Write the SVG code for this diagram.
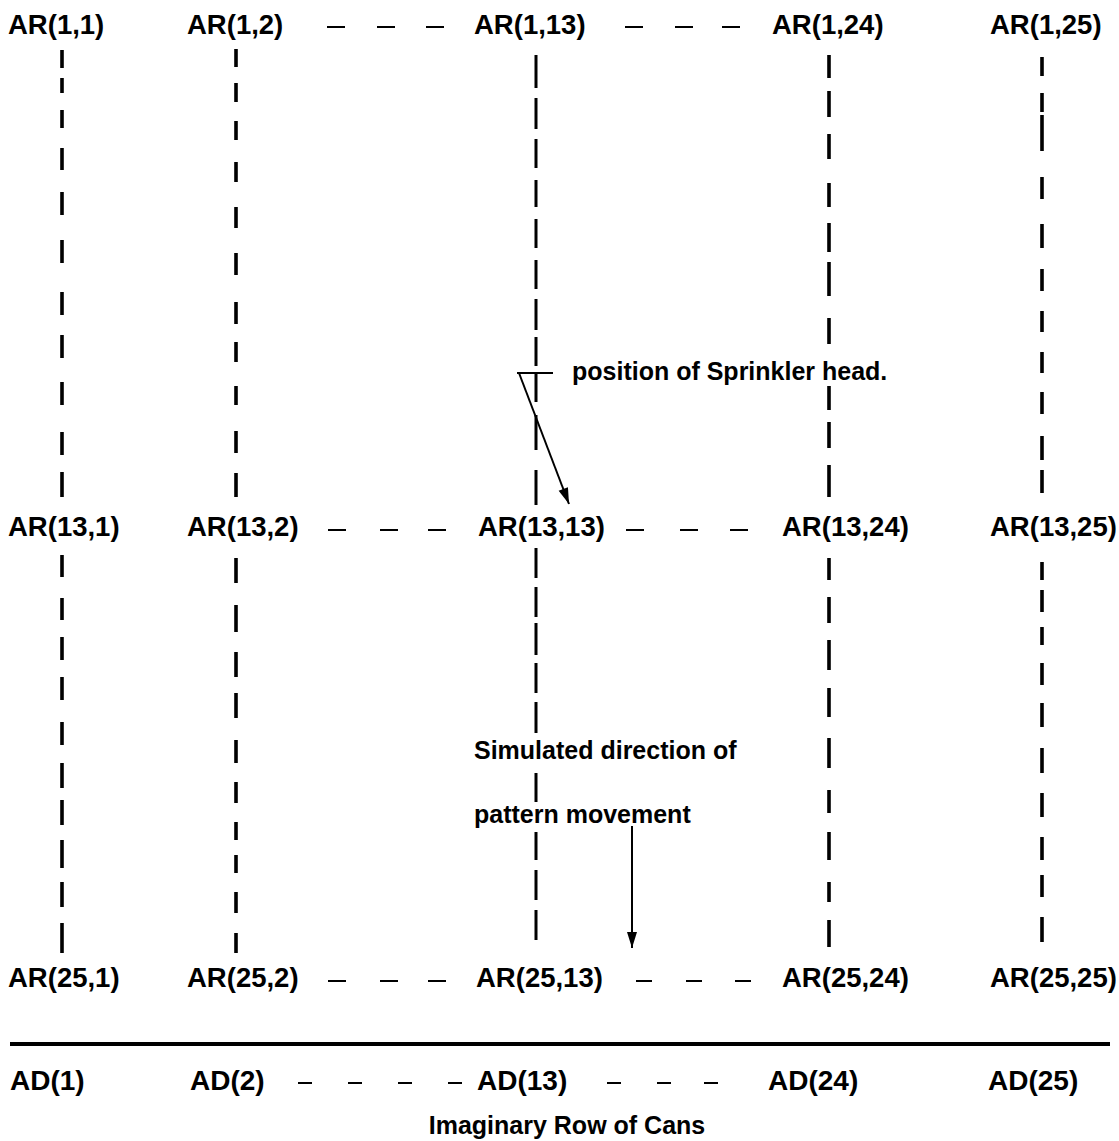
<svg xmlns="http://www.w3.org/2000/svg" width="1119" height="1141" viewBox="0 0 1119 1141">
<style>
.lbl{font-family:"Liberation Sans",Arial,sans-serif;font-weight:bold;font-size:27.5px;fill:#000}
.ad{font-family:"Liberation Sans",Arial,sans-serif;font-weight:bold;font-size:28px;fill:#000}
.note{font-family:"Liberation Sans",Arial,sans-serif;font-weight:bold;font-size:25px;fill:#000}
.col{stroke:#000;stroke-width:3.6;fill:none}
.col13{stroke:#000;stroke-width:3;fill:none}
.hd{stroke:#000;stroke-width:2.2;fill:none}
.arr{stroke:#000;stroke-width:2;fill:none}
</style>
<defs>
<marker id="ah2" viewBox="0 0 16 10" refX="16" refY="5" markerWidth="17" markerHeight="10" markerUnits="userSpaceOnUse" orient="auto">
<path d="M0,0 L16,5 L0,10 z" fill="#000"/>
</marker>
</defs>
<rect width="1119" height="1141" fill="#fff"/>
<g id="connectors">
<path class="col" d="M62 50V68M62 78V93M62 110V128M62 148V170M62 192V215M62 240V263M62 292V315M62 335V358M62 382V405M62 432V455M62 472V497"/>
<path class="col" d="M62 555V577M62 598V620M62 637V660M62 677V700M62 722V745M62 763V788M62 800V825M62 840V868M62 882V907M62 923V953"/>
<path class="col" d="M236 49V67M236 83V102M236 121V140M236 162V182M236 207V228M236 253V275M236 302V324M236 342V362M236 386V405M236 431V453M236 473V497"/>
<path class="col" d="M236 558V583M236 605V632M236 652V677M236 693V718M236 740V763M236 782V803M236 822V840M236 855V873M236 892V913M236 933V953"/>
<path class="col13" d="M536 55V88M536 98V129M536 139V168M536 180V207M536 219V248M536 260V289M536 299V330M536 337V366M536 373V402M536 415V450M536 470V505"/>
<path class="col13" d="M536 548V578M536 587V617M536 623V655M536 663V693M536 702V733M536 773V802M536 832V860M536 870V900M536 910V940"/>
<path class="col" d="M829 55V78M829 91V117M829 134V159M829 183V207M829 223V252M829 262V296M829 318V344M829 386V410M829 422V448M829 465V497"/>
<path class="col" d="M829 558V580M829 597V623M829 640V670M829 688V717M829 738V768M829 790V813M829 832V860M829 882V902M829 920V947"/>
<path class="col" d="M1042 57V76M1042 93V112M1042 115V151M1042 177V199M1042 224V248M1042 269V291M1042 311V332M1042 352V373M1042 392V414M1042 436V460M1042 470V493"/>
<path class="col" d="M1042 562V580M1042 590V612M1042 627V645M1042 663V685M1042 703V727M1042 748V773M1042 793V817M1042 837V860M1042 875V897M1042 917V942"/>
<path class="hd" d="M327 27H345M377 27H395M426 27H444M625 27H643M675 27H693M722 27H740"/>
<path class="hd" d="M328 530H346M380 530H398M428 530H446M626 530H644M680 530H698M730 530H748"/>
<path class="hd" d="M328 981H346M380 981H398M428 981H446M636 981H652M686 981H702M735 981H751"/>
<path class="hd" d="M298 1083H312M348 1083H362M398 1083H412M448 1083H462M607 1083H621M657 1083H671M704 1083H718"/>
<path stroke="#000" stroke-width="3.8" d="M10 1044H1110"/>
<path class="arr" d="M517 373H553"/>
<path class="arr" d="M519 373L569 504" marker-end="url(#ah2)"/>
<path class="arr" d="M632 826V948" marker-end="url(#ah2)"/>
</g>
<g id="row1">
<g id="ar-1-1"><text class="lbl" x="8" y="34">AR(1,1)</text></g>
<g id="ar-1-2"><text class="lbl" x="187" y="34">AR(1,2)</text></g>
<g id="ar-1-13"><text class="lbl" x="474" y="34">AR(1,13)</text></g>
<g id="ar-1-24"><text class="lbl" x="772" y="34">AR(1,24)</text></g>
<g id="ar-1-25"><text class="lbl" x="990" y="34">AR(1,25)</text></g>
</g>
<g id="row13">
<g id="ar-13-1"><text class="lbl" x="8" y="536">AR(13,1)</text></g>
<g id="ar-13-2"><text class="lbl" x="187" y="536">AR(13,2)</text></g>
<g id="ar-13-13"><text class="lbl" x="478" y="536">AR(13,13)</text></g>
<g id="ar-13-24"><text class="lbl" x="782" y="536">AR(13,24)</text></g>
<g id="ar-13-25"><text class="lbl" x="990" y="536">AR(13,25)</text></g>
</g>
<g id="row25">
<g id="ar-25-1"><text class="lbl" x="8" y="987">AR(25,1)</text></g>
<g id="ar-25-2"><text class="lbl" x="187" y="987">AR(25,2)</text></g>
<g id="ar-25-13"><text class="lbl" x="476" y="987">AR(25,13)</text></g>
<g id="ar-25-24"><text class="lbl" x="782" y="987">AR(25,24)</text></g>
<g id="ar-25-25"><text class="lbl" x="990" y="987">AR(25,25)</text></g>
</g>
<g id="adrow">
<g id="ad-1"><text class="ad" x="10" y="1090">AD(1)</text></g>
<g id="ad-2"><text class="ad" x="190" y="1090">AD(2)</text></g>
<g id="ad-13"><text class="ad" x="477" y="1090">AD(13)</text></g>
<g id="ad-24"><text class="ad" x="768" y="1090">AD(24)</text></g>
<g id="ad-25"><text class="ad" x="988" y="1090">AD(25)</text></g>
</g>
<g id="notes">
<g id="sprinkler-note"><text class="note" x="572" y="380">position of Sprinkler head.</text></g>
<g id="direction-note"><text class="note" x="474" y="759">Simulated direction of</text><text class="note" x="474" y="823">pattern movement</text></g>
<g id="caption"><text class="note" x="567" y="1134" text-anchor="middle">Imaginary Row of Cans</text></g>
</g>
</svg>
